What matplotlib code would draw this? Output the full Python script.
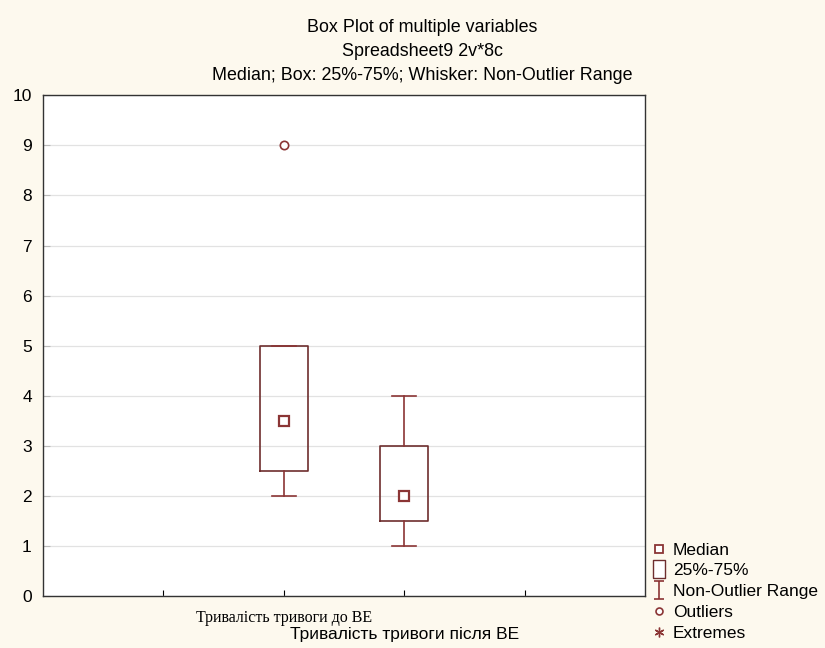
import numpy as np
import matplotlib.pyplot as plt
from matplotlib.lines import Line2D
from matplotlib.path import Path

# box plot summary per variable (STATISTICA style: median, 25-75%, non-outlier range)
var_names = ["Тривалість тривоги до ВЕ", "Тривалість тривоги після ВЕ"]
positions = [1, 2]
medians = [3.5, 2.0]
q1 = [2.5, 1.5]
q3 = [5.0, 3.0]
whisk_lo = [2.0, 1.0]
whisk_hi = [5.0, 4.0]
outliers = [[9.0], []]

dark_red = "#8b3535"
bg = "#fdf9ee"

plt.rcParams['font.family'] = ['Liberation Sans', 'DejaVu Sans']

fig = plt.figure(figsize=(8.25, 6.48), dpi=100, facecolor=bg)
ax = fig.add_axes([0.052, 0.080, 0.730, 0.773])
ax.set_facecolor("white")

stats = []
for i in range(len(var_names)):
    stats.append(dict(med=medians[i], q1=q1[i], q3=q3[i],
                      whislo=whisk_lo[i], whishi=whisk_hi[i],
                      fliers=outliers[i], label=var_names[i]))

line_kw = dict(color=dark_red, linewidth=1.2)
ax.bxp(stats, positions=positions, widths=0.4, capwidths=0.2,
       boxprops=dict(color="#6e2e2e", linewidth=1.2), whiskerprops=line_kw, capprops=line_kw,
       medianprops=dict(linewidth=0),
       flierprops=dict(marker='o', markersize=6, markerfacecolor='white',
                       markeredgecolor=dark_red, markeredgewidth=1.2),
       manage_ticks=False, zorder=3)
ax.plot(positions, medians, 's', markersize=7, markerfacecolor='white',
        markeredgecolor=dark_red, markeredgewidth=1.6, linestyle='none', zorder=4)

ax.set_xlim(-1, 4)
ax.set_ylim(0, 10)
ax.set_yticks(range(0, 11))
ax.yaxis.grid(True, color="#e2e2e2", linewidth=0.9)
ax.set_axisbelow(True)
ax.tick_params(axis='y', labelsize=12.5, length=5, color="#bbbbbb", direction='in', pad=8)

# staggered category labels: first one as major tick label, second one lower as a minor label
ax.xaxis.remove_overlapping_locs = False
ax.set_xticks([0, 1, 2, 3], ["", var_names[0], "", ""])
for lab in ax.get_xticklabels():
    lab.set_fontfamily("Liberation Serif")
    lab.set_fontsize(11.5)
ax.tick_params(axis='x', which='major', direction='in', length=4, pad=10)
ax.set_xticks([2], [var_names[1]], minor=True)
ax.tick_params(axis='x', which='minor', length=0, pad=22, labelsize=12.5)

for sp in ax.spines.values():
    sp.set_color("#333333")
    sp.set_linewidth(1.0)

fig.text(0.512, 0.957, "Box Plot of multiple variables", ha='center', va='center', fontsize=12.9)
fig.text(0.512, 0.920, "Spreadsheet9 2v*8c", ha='center', va='center', fontsize=12.9)
fig.text(0.512, 0.883, "Median; Box: 25%-75%; Whisker: Non-Outlier Range",
         ha='center', va='center', fontsize=12.9)

# legend glyph for the whisker range
whisker_path = Path([(-0.5, 1), (0.5, 1), (0, 1), (0, -1), (-0.5, -1), (0.5, -1)],
                    [Path.MOVETO, Path.LINETO, Path.MOVETO, Path.LINETO,
                     Path.MOVETO, Path.LINETO])
box_path = Path([(-0.7, -1), (0.7, -1), (0.7, 1), (-0.7, 1), (-0.7, -1)])
handles = [
    Line2D([], [], marker='s', markersize=5.5, markerfacecolor='white',
           markeredgecolor=dark_red, markeredgewidth=1.3, linestyle='none'),
    Line2D([], [], marker=box_path, markersize=13, markerfacecolor='white',
           markeredgecolor='#6e2e2e', markeredgewidth=1.0, linestyle='none'),
    Line2D([], [], marker=whisker_path, markersize=13, markerfacecolor='none',
           markeredgecolor=dark_red, markeredgewidth=1.2, linestyle='none'),
    Line2D([], [], marker='o', markersize=5, markerfacecolor='white',
           markeredgecolor=dark_red, markeredgewidth=1.2, linestyle='none'),
    Line2D([], [], marker=(6, 2, 0), markersize=7, color=dark_red,
           markeredgewidth=1.0, linestyle='none'),
]
labels = ["Median", "25%-75%", "Non-Outlier Range", "Outliers", "Extremes"]
fig.legend(handles, labels, loc='lower left', bbox_to_anchor=(0.779, -0.002),
           frameon=False, fontsize=12.5, handlelength=0.9, handletextpad=0.35,
           labelspacing=0.32, borderaxespad=0.3, borderpad=0.2)

fig.savefig("out.png", dpi=100, facecolor=bg)
